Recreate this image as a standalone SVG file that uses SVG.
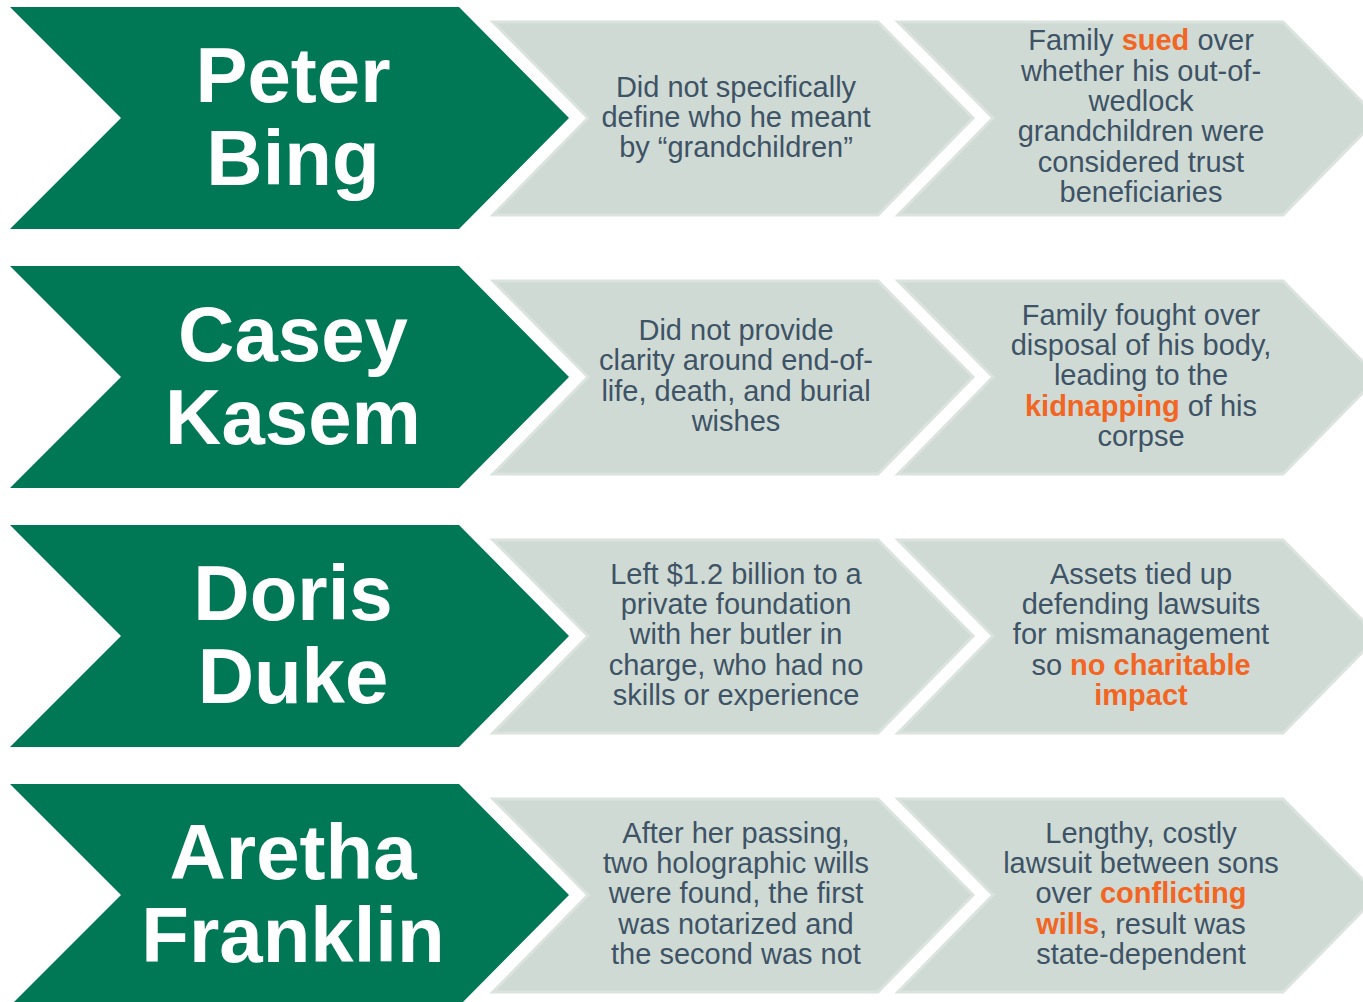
<svg xmlns="http://www.w3.org/2000/svg" width="1363" height="1002" viewBox="0 0 1363 1002">
<style>
.g{fill:#007856}
.s{fill:#cfdad4;stroke:#dbe3de;stroke-width:3}
.n{font-family:"Liberation Sans",Arial,sans-serif;font-weight:bold;font-size:78px;fill:#ffffff;text-anchor:middle}
.t{font-family:"Liberation Sans",Arial,sans-serif;font-size:29px;fill:#3e5365;text-anchor:middle}
.o{fill:#f26522;font-weight:bold}
</style>
<rect width="1363" height="1002" fill="#ffffff"/>
<g id="row1">
<g id="name1"><polygon class="g" points="10,7 459,7 569,118 459,229 10,229 121,118"/>
<text class="n" x="293" y="102">Peter</text><text class="n" x="293" y="185">Bing</text></g>
<g id="cause1"><polygon class="s" points="493,22 878,22 973,118 878,215 493,215 588,118"/>
<text class="t" x="736" y="97">Did not specifically</text><text class="t" x="736" y="127">define who he meant</text><text class="t" x="736" y="157">by “grandchildren”</text></g>
<g id="effect1"><polygon class="s" points="898,22 1283,22 1378,118 1283,215 898,215 993,118"/>
<text class="t" x="1141" y="50">Family <tspan class="o">sued</tspan> over</text>
<text class="t" x="1141" y="81">whether his out-of-</text>
<text class="t" x="1141" y="111">wedlock</text>
<text class="t" x="1141" y="141">grandchildren were</text>
<text class="t" x="1141" y="172">considered trust</text>
<text class="t" x="1141" y="202">beneficiaries</text></g>
</g>
<g id="row2" transform="translate(0,259)">
<g id="name2"><polygon class="g" points="10,7 459,7 569,118 459,229 10,229 121,118"/>
<text class="n" x="293" y="102">Casey</text><text class="n" x="293" y="185">Kasem</text></g>
<g id="cause2"><polygon class="s" points="493,22 878,22 973,118 878,215 493,215 588,118"/>
<text class="t" x="736" y="81">Did not provide</text><text class="t" x="736" y="111">clarity around end-of-</text><text class="t" x="736" y="142">life, death, and burial</text><text class="t" x="736" y="172">wishes</text></g>
<g id="effect2"><polygon class="s" points="898,22 1283,22 1378,118 1283,215 898,215 993,118"/>
<text class="t" x="1141" y="66">Family fought over</text>
<text class="t" x="1141" y="96">disposal of his body,</text>
<text class="t" x="1141" y="126">leading to the</text>
<text class="t" x="1141" y="157"><tspan class="o">kidnapping</tspan> of his</text>
<text class="t" x="1141" y="187">corpse</text></g>
</g>
<g id="row3" transform="translate(0,518)">
<g id="name3"><polygon class="g" points="10,7 459,7 569,118 459,229 10,229 121,118"/>
<text class="n" x="293" y="102">Doris</text><text class="n" x="293" y="185">Duke</text></g>
<g id="cause3"><polygon class="s" points="493,22 878,22 973,118 878,215 493,215 588,118"/>
<text class="t" x="736" y="66">Left $1.2 billion to a</text><text class="t" x="736" y="96">private foundation</text><text class="t" x="736" y="126">with her butler in</text><text class="t" x="736" y="157">charge, who had no</text><text class="t" x="736" y="187">skills or experience</text></g>
<g id="effect3"><polygon class="s" points="898,22 1283,22 1378,118 1283,215 898,215 993,118"/>
<text class="t" x="1141" y="66">Assets tied up</text>
<text class="t" x="1141" y="96">defending lawsuits</text>
<text class="t" x="1141" y="126">for mismanagement</text>
<text class="t" x="1141" y="157">so <tspan class="o">no charitable</tspan></text>
<text class="t" x="1141" y="187"><tspan class="o">impact</tspan></text></g>
</g>
<g id="row4" transform="translate(0,777)">
<g id="name4"><polygon class="g" points="10,7 459,7 569,118 459,229 10,229 121,118"/>
<text class="n" x="293" y="102">Aretha</text><text class="n" x="293" y="185">Franklin</text></g>
<g id="cause4"><polygon class="s" points="493,22 878,22 973,118 878,215 493,215 588,118"/>
<text class="t" x="736" y="66">After her passing,</text><text class="t" x="736" y="96">two holographic wills</text><text class="t" x="736" y="126">were found, the first</text><text class="t" x="736" y="157">was notarized and</text><text class="t" x="736" y="187">the second was not</text></g>
<g id="effect4"><polygon class="s" points="898,22 1283,22 1378,118 1283,215 898,215 993,118"/>
<text class="t" x="1141" y="66">Lengthy, costly</text>
<text class="t" x="1141" y="96">lawsuit between sons</text>
<text class="t" x="1141" y="126">over <tspan class="o">conflicting</tspan></text>
<text class="t" x="1141" y="157"><tspan class="o">wills</tspan>, result was</text>
<text class="t" x="1141" y="187">state-dependent</text></g>
</g>
<g id="connectors"></g>
</svg>
